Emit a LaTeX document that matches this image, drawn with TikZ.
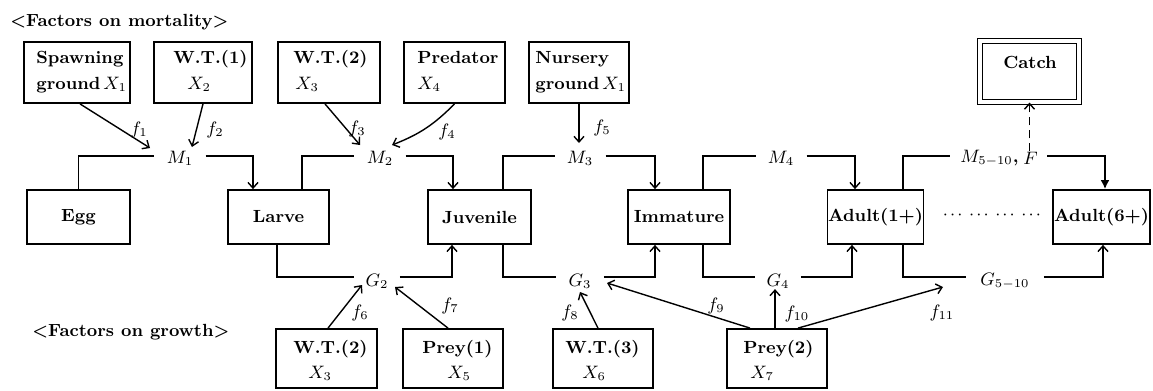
\documentclass[tikz,border=0pt]{standalone}
\usepackage{fontspec}
\usetikzlibrary{arrows.meta,calc}
\newcommand\dotgrp{\ensuremath{\mathord{\cdot}\kern1.05pt\mathord{\cdot}\kern1.05pt\mathord{\cdot}}}
\begin{document}
\begin{tikzpicture}[x=0.5pt,y=-0.5pt,
  font=\fontsize{8.8}{10.5}\selectfont\bfseries,
  box/.style={draw, line width=0.9pt, inner sep=0pt},
  conn/.style={line width=0.7pt},
  arr/.style={conn, -{Straight Barb[length=2.8pt,width=5pt,line width=0.7pt]}},
  arrbold/.style={line width=0.9pt, -{Latex[length=4.5pt,width=4.5pt]}},
  txt/.style={anchor=base west, inner sep=0pt},
  rowlbl/.style={inner xsep=6pt, inner ysep=0pt},
  flbl/.style={inner sep=0pt}]
\useasboundingbox (0,0) rectangle (1153,391);

% levels of the mortality and growth rows
\coordinate (mrow) at (0,156);
\coordinate (grow) at (0,277);

% headings
\node[anchor=west, inner sep=0pt] (hmort) at (10,22) {<Factors on mortality>};
\node[anchor=west, inner sep=0pt] (hgrow) at (32,332) {<Factors on growth>};

% factors on mortality
\node[box, minimum width=53pt, minimum height=30.5pt] (spawn) at (77,72.5) {};
\node[txt] (spawnA) at (36,63) {Spawning};
\node[txt] (spawnB) at (36,90) {ground\,$X_1$};
\node[box, minimum width=49pt, minimum height=30.5pt] (wt1) at (203,72.5) {};
\node[txt] (wt1A) at (173,63) {W.T.(1)};
\node[txt] (wt1B) at (187,90) {$X_2$};
\node[box, minimum width=51pt, minimum height=30.5pt] (wt2a) at (329,72.5) {};
\node[txt] (wt2aA) at (293,63) {W.T.(2)};
\node[txt] (wt2aB) at (295,90) {$X_3$};
\node[box, minimum width=50.5pt, minimum height=30.5pt] (pred) at (454.5,72.5) {};
\node[txt] (predA) at (417,63) {Predator};
\node[txt] (predB) at (417,90) {$X_4$};
\node[box, minimum width=50pt, minimum height=30.5pt] (nurs) at (579,72.5) {};
\node[txt] (nursA) at (535,63) {Nursery};
\node[txt] (nursB) at (535,90) {ground\,$X_1$};

% catch
\node[draw, double, double distance=1.6pt, line width=0.6pt,
      minimum width=49.5pt, minimum height=30.5pt, inner sep=0pt] (catch) at (1029.5,71.5) {};
\node[flbl] (catchlbl) at (1030,62) {Catch};

% life stages
\node[box, minimum width=51.5pt, minimum height=27pt] (egg) at (78.5,217) {Egg};
\node[box, minimum width=50.5pt, minimum height=27pt] (larve) at (278.5,217) {Larve};
\node[box, minimum width=51.5pt, minimum height=27pt] (juv) at (479.5,217) {Juvenile};
\node[box, minimum width=51pt, minimum height=27pt] (imm) at (679,217) {Immature};
\node[box, minimum width=48pt, minimum height=27pt] (ad1) at (875.5,217) {Adult(1+)};
\node[box, minimum width=48.5pt, minimum height=27pt] (ad6) at (1101.5,217) {Adult(6+)};
\node[flbl] (dots) at (992,215) {\dotgrp\kern3.3pt\dotgrp\kern3.3pt\dotgrp\kern3.3pt\dotgrp};

% factors on growth
\node[box, minimum width=50.5pt, minimum height=29.5pt] (wt2b) at (326.5,358.5) {};
\node[txt] (wt2bA) at (293,353) {W.T.(2)};
\node[txt] (wt2bB) at (308,378) {$X_3$};
\node[box, minimum width=50pt, minimum height=29.5pt] (prey1) at (453,358.5) {};
\node[txt] (prey1A) at (422,353) {Prey(1)};
\node[txt] (prey1B) at (447,378) {$X_5$};
\node[box, minimum width=50pt, minimum height=29.5pt] (wt3) at (603,358.5) {};
\node[txt] (wt3A) at (565,353) {W.T.(3)};
\node[txt] (wt3B) at (582,378) {$X_6$};
\node[box, minimum width=50pt, minimum height=29.5pt] (prey2) at (777,358.5) {};
\node[txt] (prey2A) at (743,353) {Prey(2)};
\node[txt] (prey2B) at (750,378) {$X_7$};

% rates
\node[rowlbl] (M1) at (180,158) {$M_1$};
\node[rowlbl] (M2) at (380,158) {$M_2$};
\node[rowlbl] (M3) at (580,158) {$M_3$};
\node[rowlbl] (M4) at (781,158) {$M_4$};
\node[rowlbl, inner xsep=0pt, anchor=east] (mlab) at (1019,158) {$M_{5-10}$,};
\node[rowlbl, inner xsep=0pt, anchor=west] (flab) at (1023,158) {$F$};
\node[rowlbl, inner xsep=5.5pt] (G2) at (377,281) {$G_2$};
\node[rowlbl] (G3) at (580,281) {$G_3$};
\node[rowlbl, inner xsep=5.5pt] (G4) at (778,281) {$G_4$};
\node[rowlbl, inner xsep=7pt] (G5) at (1005,281) {$G_{5-10}$};

% mortality row
\draw[conn] (egg.north) |- (M1.west |- mrow);
\draw[arr] (M1.east |- mrow) -| ([xshift=-12.75pt]larve.north);
\draw[conn] ([xshift=11.75pt]larve.north) |- (M2.west |- mrow);
\draw[arr] (M2.east |- mrow) -| ([xshift=-13.25pt]juv.north);
\draw[conn] ([xshift=11.75pt]juv.north) |- (M3.west |- mrow);
\draw[arr] (M3.east |- mrow) -| ([xshift=-12pt]imm.north);
\draw[conn] ([xshift=12pt]imm.north) |- (M4.west |- mrow);
\draw[arr] (M4.east |- mrow) -| ([xshift=-10.25pt]ad1.north);
\draw[conn] ([xshift=13.75pt]ad1.north) |- ($(mlab.west |- mrow)+(-10,0)$);
\draw[arrbold] ($(flab.east |- mrow)+(9,0)$) -| ([xshift=1.75pt]ad6.north);
\draw[arr, dash pattern=on 4pt off 2.5pt] (catch.south |- flab.north) -- (catch.south);

% growth row
\draw[conn] ([xshift=-0.75pt]larve.south) |- (G2.west |- grow);
\draw[arr] (G2.east |- grow) -| ([xshift=-13.75pt]juv.south);
\draw[conn] ([xshift=11.75pt]juv.south) |- (G3.west |- grow);
\draw[arr] (G3.east |- grow) -| ([xshift=-12pt]imm.south);
\draw[conn] ([xshift=12pt]imm.south) |- (G4.west |- grow);
\draw[arr] (G4.east |- grow) -| ([xshift=-11.75pt]ad1.south);
\draw[conn] ([xshift=13.75pt]ad1.south) |- (G5.west |- grow);
\draw[arr] (G5.east |- grow) -| ([xshift=0.75pt]ad6.south);

% influences on mortality
\draw[arr] ([xshift=1.5pt]spawn.south) -- ($(M1)+(-30,-10)$);
\draw[arr] (wt1.south) -- ($(M1)+(12,-11)$);
\draw[arr] ([xshift=-2pt]wt2a.south) -- ($(M2)+(-20,-13)$);
\draw[arr] (pred.south) to[bend left=12] ($(M2)+(12,-13)$);
\draw[arr] (nurs.south) -- ($(nurs.south |- M3)+(0,-15)$);
\node[flbl] (lf1) at (139,130) {$f_1$};
\node[flbl] (lf2) at (215,130) {$f_2$};
\node[flbl] (lf3) at (357,129) {$f_3$};
\node[flbl] (lf4) at (447,132) {$f_4$};
\node[flbl] (lf5) at (602,128) {$f_5$};

% influences on growth
\draw[arr] ([xshift=0.75pt]wt2b.north) -- ($(G2)+(-15,4)$);
\draw[arr] ([xshift=-2.5pt]prey1.north) -- ($(G2)+(18,6)$);
\draw[arr] ([xshift=-2.5pt]wt3.north) -- ($(G3)+(0,11)$);
\draw[arr] ([xshift=-13.5pt]prey2.north) -- ($(G3)+(27,2)$);
\draw[arr] ([xshift=-1pt]prey2.north) -- ($(prey2.north)+(-2,-39)$);
\draw[arr] ([xshift=10.5pt]prey2.north) -- ($(G5)+(-62,6)$);
\node[flbl] (lf6) at (360,313) {$f_6$};
\node[flbl] (lf7) at (450,306) {$f_7$};
\node[flbl] (lf8) at (570,313) {$f_8$};
\node[flbl] (lf9) at (716,306) {$f_9$};
\node[flbl] (lf10) at (797,314) {$f_{10}$};
\node[flbl] (lf11) at (942,313) {$f_{11}$};
\end{tikzpicture}
\end{document}
